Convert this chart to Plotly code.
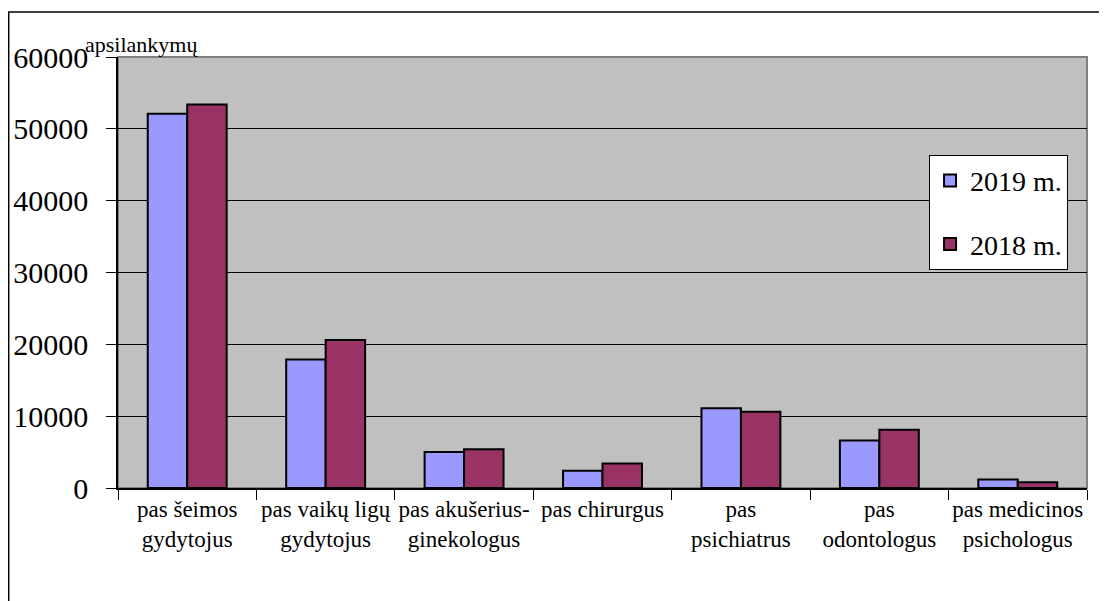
import plotly.graph_objects as go

categories = [
    "pas šeimos<br>gydytojus",
    "pas vaikų ligų<br>gydytojus",
    "pas akušerius-<br>ginekologus",
    "pas chirurgus<br> ",
    "pas<br>psichiatrus",
    "pas<br>odontologus",
    "pas medicinos<br>psichologus",
]
visits_2019 = [52100, 17900, 5000, 2400, 11100, 6600, 1200]
visits_2018 = [53400, 20600, 5400, 3400, 10600, 8100, 800]
y_ticks = [0, 10000, 20000, 30000, 40000, 50000, 60000]
y_tick_labels = ["0", "10000", "20000", "30000", "40000", "50000", "60000"]

FONT = "Liberation Serif"

fig = go.Figure()
fig.add_trace(go.Bar(x=categories, y=visits_2019, name="2019 m.", legendgroup="a",
                     marker=dict(color="#9999ff", line=dict(color="black", width=2))))
fig.add_trace(go.Bar(x=categories, y=visits_2018, name="2018 m.", legendgroup="b",
                     marker=dict(color="#993366", line=dict(color="black", width=2))))

# plot area frame (grey shadow on top/right)
fig.add_shape(type="rect", xref="paper", yref="paper", x0=0, y0=0, x1=1, y1=1,
              line=dict(color="#808080", width=2), layer="below")
# outer border of the picture
fig.add_shape(type="path", xref="paper", yref="paper",
              path="M -0.1128,-0.3 L -0.1128,1.1044 L 1.05,1.1044",
              line=dict(color="black", width=1.5))

fig.add_annotation(text="apsilankymų", xref="paper", yref="paper", x=-0.036, y=0.995,
                   xanchor="left", yanchor="bottom", showarrow=False,
                   font=dict(family=FONT, size=22, color="black"))

fig.update_layout(
    width=1099,
    height=593,
    margin=dict(l=110, r=20, t=49, b=113),
    paper_bgcolor="white",
    plot_bgcolor="#c0c0c0",
    font=dict(family=FONT, color="black"),
    barmode="group",
    bargap=0.43,
    bargroupgap=0,
    showlegend=True,
    legend=dict(x=0.837, y=0.773, xanchor="left", yanchor="top",
                bgcolor="white", bordercolor="black", borderwidth=1,
                font=dict(family=FONT, size=28), tracegroupgap=24,
                itemsizing="constant"),
)
fig.update_yaxes(range=[0, 60000], tickvals=y_ticks, ticktext=y_tick_labels,
                 showgrid=True, gridcolor="black", gridwidth=1, showline=True,
                 linecolor="black", linewidth=1.5, ticks="outside", ticklen=10,
                 tickcolor="black", tickfont=dict(family=FONT, size=30),
                 ticklabelstandoff=12, zeroline=False, automargin=False)
fig.update_xaxes(showline=True, linecolor="black", linewidth=1.5,
                 ticks="outside", ticklen=10, tickcolor="black",
                 tickson="boundaries", tickfont=dict(family=FONT, size=23),
                 tickangle=0, automargin=False)

fig.write_html("out.html")
